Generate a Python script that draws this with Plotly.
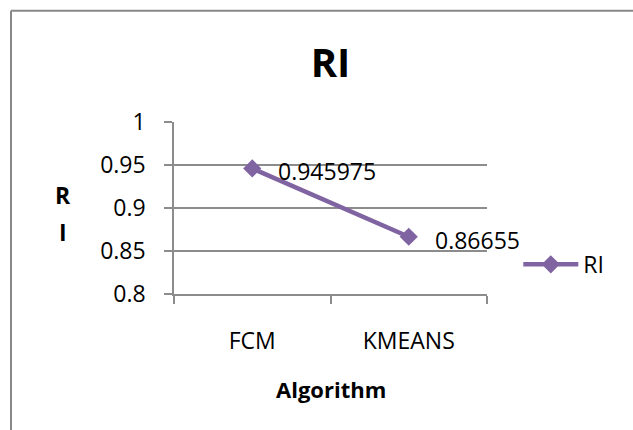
import plotly.graph_objects as go

categories = ["FCM", "KMEANS"]
ri_values = [0.945975, 0.86655]
y_ticks = [0.8, 0.85, 0.9, 0.95, 1]
y_tick_labels = ["0.8", "0.85", "0.9", "0.95", "1"]
y_title_letters = ["R", "I"]

PURPLE = "#8064A2"
GRID = "#8c8c8c"
FONT = "Open Sans"

fig = go.Figure()
fig.add_trace(go.Scatter(
    x=categories, y=ri_values, mode="lines+markers", name="RI",
    line=dict(color=PURPLE, width=4.5),
    marker=dict(symbol="diamond", size=14, color=PURPLE),
))

annotations = []
for c, v in zip(categories, ri_values):
    annotations.append(dict(
        x=c, y=v, xref="x", yref="y", text=f"{v:g}", showarrow=False,
        xanchor="left", yanchor="middle", xshift=24, yshift=-3,
        font=dict(family=FONT, size=23, color="#000000"),
    ))
# stacked y-axis title (one letter per line)
for letter, yp in zip(y_title_letters, [0.574, 0.359]):
    annotations.append(dict(
        x=-0.355, y=yp, xref="paper", yref="paper", text=f"<b>{letter}</b>",
        showarrow=False, xanchor="center", yanchor="middle",
        font=dict(family=FONT, size=23, color="#000000"),
    ))
# x-axis title
annotations.append(dict(
    x=0.5, y=-0.555, xref="paper", yref="paper", text="<b>Algorithm</b>",
    showarrow=False, xanchor="center", yanchor="middle",
    font=dict(family=FONT, size=22, color="#000000"),
))

bx = (11 - 174) / 313
by = (293.5 - 11) / 171.5
shapes = [
    dict(type="line", xref="paper", yref="paper", x0=bx, x1=bx, y0=-1.5, y1=by,
         line=dict(color="#888888", width=2)),
    dict(type="line", xref="paper", yref="paper", x0=bx, x1=2.0, y0=by, y1=by,
         line=dict(color="#888888", width=2)),
]

fig.update_layout(
    width=633, height=430,
    margin=dict(l=174, r=146, t=122, b=136),
    paper_bgcolor="white", plot_bgcolor="white",
    font=dict(family=FONT, size=23, color="#000000"),
    title=dict(text="<b>RI</b>", x=0.5, xref="paper", xanchor="center",
               y=1 - 63 / 430, yref="container", yanchor="middle",
               font=dict(family=FONT, size=40, color="#000000")),
    showlegend=True,
    legend=dict(x=1.1, y=0.172, xanchor="left", yanchor="middle",
                font=dict(family=FONT, size=23), itemwidth=55,
                bgcolor="rgba(0,0,0,0)"),
    annotations=annotations,
    shapes=shapes,
)
fig.update_xaxes(
    type="category", range=[-0.5, 1.5], showline=True, linecolor=GRID, linewidth=1.5,
    showgrid=False, ticks="outside", tickson="boundaries", ticklen=8, tickcolor=GRID,
    tickwidth=1.5, ticklabelstandoff=26, tickfont=dict(family=FONT, size=23),
    zeroline=False, fixedrange=True,
)
fig.update_yaxes(
    range=[0.8, 1], tickvals=y_ticks, ticktext=y_tick_labels, showline=True,
    linecolor=GRID, linewidth=1.5, showgrid=True, gridcolor=GRID, gridwidth=1.5,
    ticks="outside", ticklen=8, tickcolor=GRID, tickwidth=1.5, ticklabelstandoff=14,
    tickfont=dict(family=FONT, size=23), zeroline=False, fixedrange=True,
)

fig.write_html("out.html")
